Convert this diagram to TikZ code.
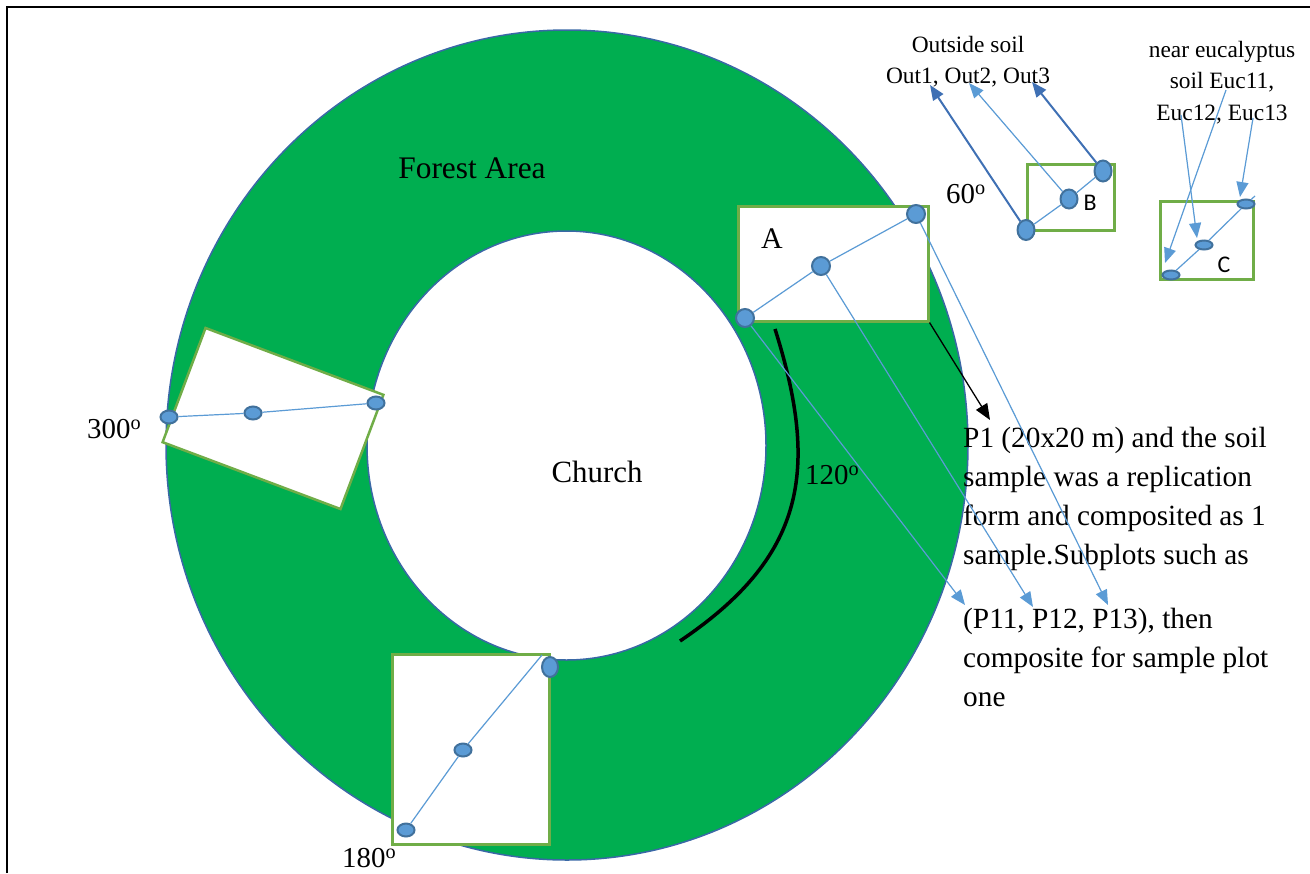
\documentclass[tikz,border=0pt]{standalone}
\usepackage{fontspec}
\setmainfont{Liberation Serif}
\newfontfamily\calfont{Carlito}
\usetikzlibrary{shapes.geometric,arrows.meta}
\definecolor{ringgreen}{HTML}{00AE50}
\definecolor{ringline}{HTML}{3A68A6}
\definecolor{boxgreen}{HTML}{70AD47}
\definecolor{mfill}{HTML}{5B9BD5}
\definecolor{mline}{HTML}{41719C}
\definecolor{darkarrow}{HTML}{3F70B4}
\begin{document}
\begin{tikzpicture}[x=1bp,y=-1bp,
  plotbox/.style={draw=boxgreen,line width=2.5bp,fill=white,inner sep=0pt},
  marker/.style={ellipse,draw=mline,fill=mfill,line width=2bp,inner sep=0pt},
  mk/.style 2 args={marker,minimum width=#1bp,minimum height=#2bp},
  sline/.style={draw=mfill,line width=1.2bp},
  larrow/.style={draw=mfill,line width=1.2bp,-{Triangle[length=15bp,width=12bp]},fill=mfill},
  darrow/.style={draw=darkarrow,line width=2bp,-{Triangle[length=15bp,width=12bp]},fill=darkarrow},
  bigtext/.style={font=\fontsize{29}{39}\selectfont,inner sep=0pt},
  smalltext/.style={font=\fontsize{23.5}{31.5}\selectfont,inner sep=0pt,align=center},
  lettertext/.style={font=\calfont\fontsize{24}{28}\selectfont,inner sep=0pt}
]
\useasboundingbox (0,0) rectangle (1310,873);
% frame
\draw[line width=2bp] (7,873) -- (7,7) -- (1310,7);
% ring
\fill[ringgreen,even odd rule] (567,445) ellipse [x radius=401,y radius=415]
      (566.5,445.5) ellipse [x radius=199.5,y radius=214.5];
\draw[ringline,line width=1.5bp] (567,445) ellipse [x radius=401,y radius=415];
\draw[ringline,line width=1.5bp] (566.5,445.5) ellipse [x radius=199.5,y radius=214.5];
% black arc 120
\coordinate (arcS) at (775,329);
\coordinate (arcE) at (680,641);
\draw[line width=3.5bp] (arcS) .. controls (820,471.5) and (804.5,557) .. (arcE);
% boxes
\node[plotbox,minimum width=190bp,minimum height=115bp,anchor=north west] (boxA) at (737,205) {};
\node[plotbox,minimum width=190bp,minimum height=122bp,rotate=-20.6] (box300) at (273,418.5) {};
\node[plotbox,minimum width=157bp,minimum height=190bp,anchor=north west] (box180) at (391,653) {};
\node[plotbox,minimum width=87bp,minimum height=66bp,anchor=north west] (boxB) at (1026,163) {};
\node[plotbox,minimum width=93bp,minimum height=78bp,anchor=north west] (boxC) at (1159,200) {};
% markers
\node[mk={18}{18}] (a1) at (745,318) {};
\node[mk={18}{18}] (a2) at (821,266) {};
\node[mk={18}{18}] (a3) at (916,214) {};
\node[mk={17}{13}] (w1) at (169,417) {};
\node[mk={17}{13}] (w2) at (253,413) {};
\node[mk={17}{13}] (w3) at (376,403) {};
\node[mk={17}{13}] (s1) at (406,830) {};
\node[mk={17}{13}] (s2) at (463,750) {};
\node[mk={16}{20}] (s3) at (550,667) {};
\node[mk={17}{20}] (b1) at (1026,230) {};
\node[mk={17}{19}] (b2) at (1069,199) {};
\node[mk={17}{21}] (b3) at (1103,171) {};
\node[mk={17}{9}] (c1) at (1171,275) {};
\node[mk={17}{9}] (c2) at (1204,245) {};
\node[mk={17}{9}] (c3) at (1246,204) {};
\coordinate (c0) at (1165,279);
\coordinate (c4) at (1255,196);
\coordinate (s4) at (542,655);
% connecting lines
\path[sline] (a1) -- (a2) (a2) -- (a3);
\path[sline] (w1) -- (w2) (w2) -- (w3);
\path[sline] (s1) -- (s2) (s2) -- (s4);
\path[sline] (b1) -- (b2) (b2) -- (b3);
\path[sline] (c0) -- (c1) (c1) -- (c2) (c2) -- (c3) (c3) -- (c4);
% texts
\node[bigtext,font=\fontsize{31.5}{36}\selectfont,anchor=base] (forest) at (472,178) {Forest Area};
\node[bigtext,font=\fontsize{31}{36}\selectfont,anchor=base] (church) at (597,482) {Church};
\node[bigtext,font=\fontsize{30}{36}\selectfont,anchor=base] (labA) at (772,248) {A};
\node[lettertext,anchor=base] (labB) at (1090,210) {B};
\node[lettertext,anchor=base] (labC) at (1224,272) {C};
\node[bigtext,anchor=base west] (d120) at (805,484) {120\textsuperscript{o}};
\node[bigtext,anchor=base west] (d300) at (87,438) {300\textsuperscript{o}};
\node[bigtext,anchor=base west] (d180) at (342,867) {180\textsuperscript{o}};
\node[bigtext,anchor=base west] (d60) at (946,203) {60\textsuperscript{o}};
\node[smalltext,anchor=north] (outtxt) at (968,36) {Outside soil\\Out1, Out2, Out3};
\node[smalltext,anchor=north] (euctxt) at (1222,41) {near eucalyptus\\soil Euc11,\\Euc12, Euc13};
\node[bigtext,font=\fontsize{29.4}{39}\selectfont,align=left,anchor=north west] (p1txt) at (963,427)
  {P1 (20x20 m) and the soil\\sample was a replication\\form and composited as 1\\sample.Subplots such as\\[26bp](P11, P12, P13), then\\composite for sample plot\\one};
% arrow tips
\coordinate (pt1) at (965,605);
\coordinate (pt2) at (1033,607);
\coordinate (pt3) at (1108,605);
\coordinate (ot1) at (930,85);
\coordinate (ot2) at (969,83);
\coordinate (ot3) at (1032,82);
\coordinate (es1) at (1226,90);
\coordinate (es2) at (1181,115);
\coordinate (es3) at (1253,118);
\coordinate (et1) at (1165,263);
\coordinate (et2) at (1197,238);
\coordinate (et3) at (1240,197);
\coordinate (ptxt) at (990,420);
% arrows
\draw[larrow] (a1) -- (pt1);
\draw[larrow] (a2) -- (pt2);
\draw[larrow] (a3) -- (pt3);
\draw[darrow] (b1) -- (ot1);
\draw[larrow] (b2) -- (ot2);
\draw[darrow] (b3) -- (ot3);
\draw[larrow] (es1) -- (et1);
\draw[larrow] (es2) -- (et2);
\draw[larrow] (es3) -- (et3);
\draw[line width=1.3bp,-{Triangle[length=16bp,width=13bp]}] (boxA.south east) -- (ptxt);
\end{tikzpicture}
\end{document}
